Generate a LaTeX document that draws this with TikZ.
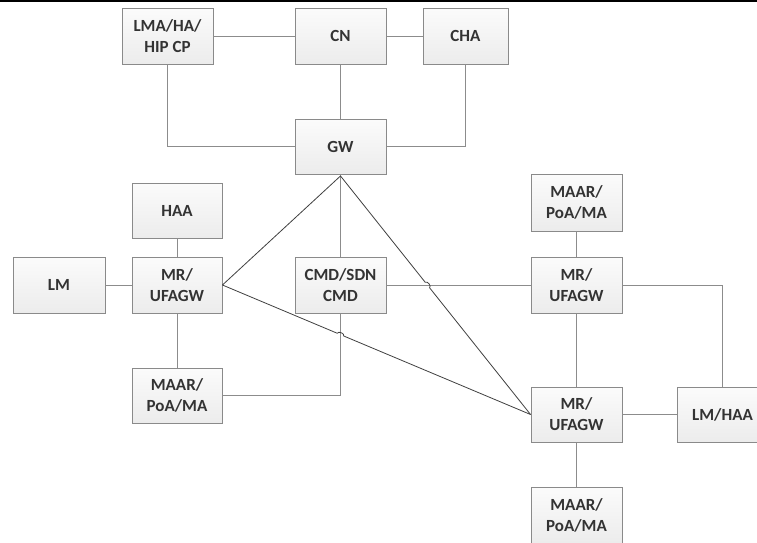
\documentclass[tikz,border=0pt]{standalone}
\usepackage{fontspec}
\setmainfont{Carlito}
\usetikzlibrary{calc,shadows}
\definecolor{boxline}{HTML}{8A8A8A}
\definecolor{boxtext}{HTML}{333333}
\definecolor{wire}{HTML}{8C8C8C}
\definecolor{diag}{HTML}{404040}
\tikzset{
  box/.style={draw=boxline, line width=0.9pt, top color=gray!3, bottom color=gray!15,
    text=boxtext, font=\bfseries\fontsize{17}{21}\selectfont, align=center,
    inner sep=0pt, minimum width=91pt, minimum height=56pt,
    drop shadow={shadow xshift=1pt, shadow yshift=-1pt, opacity=0.18, fill=black}},
  wireline/.style={draw=wire, line width=0.9pt},
  diagline/.style={draw=diag, line width=0.8pt},
}
\begin{document}
\begin{tikzpicture}[x=1pt, y=-1pt]
\useasboundingbox (0,0) rectangle (757,542);
\clip (0,0) rectangle (757,542);
\fill[white] (0,0) rectangle (757,542);
\draw[line width=1.6pt] (0,0.8) -- (757,0.8);

% upper row
\node[box] (lma) at (167.5,36) {LMA/HA/\\HIP CP};
\node[box] (cn) at (340.5,36) {CN};
\node[box, minimum width=85pt] (cha) at (465.5,36) {CHA};
\node[box, minimum height=55pt] (gw) at (340.5,146.5) {GW};

% left cluster
\node[box, minimum width=90pt, minimum height=55pt] (haa) at (177,210.5) {HAA};
\node[box, minimum width=92pt] (lm) at (59,285) {LM};
\node[box, minimum width=90pt] (mrl) at (177,285) {MR/\\UFAGW};
\node[box] (cmd) at (340.5,285) {CMD/SDN\\CMD};
\node[box, minimum width=90pt, minimum height=55pt] (maarl) at (177,395.5) {MAAR/\\PoA/MA};

% right cluster
\node[box, minimum height=57pt] (maarr1) at (576.5,202.5) {MAAR/\\PoA/MA};
\node[box] (mrr1) at (576.5,285) {MR/\\UFAGW};
\node[box, minimum height=55pt] (mrr2) at (576.5,414.5) {MR/\\UFAGW};
\node[box, minimum height=55pt] (lmhaa) at (722.5,414.5) {LM/HAA};
\node[box] (maarr2) at (576.5,515) {MAAR/\\PoA/MA};

% plain connectors
\draw[wireline] (lma.east) -- (cn.west);
\draw[wireline] (cn.east) -- (cha.west);
\draw[wireline] (cn.south) -- (gw.north);
\draw[wireline] (lma.south) |- (gw.west);
\draw[wireline] (cha.south) |- (gw.east);
\draw[wireline] (gw.south) -- (cmd.north);
\draw[wireline] (haa.south) -- (mrl.north);
\draw[wireline] (lm.east) -- (mrl.west);
\draw[wireline] (mrl.south) -- (maarl.north);
\coordinate (knee) at (cmd.south |- maarl.east);
\draw[wireline] (maarl.east) -- (knee) -- (cmd.south);
\draw[wireline] (cmd.east) -- (mrr1.west);
\draw[wireline] (maarr1.south) -- (mrr1.north);
\draw[wireline] (mrr1.south) -- (mrr2.north);
\draw[wireline] (mrr1.east) -| (lmhaa.north);
\draw[wireline] (mrr2.east) -- (lmhaa.west);
\draw[wireline] (mrr2.south) -- (maarr2.north);

% diagonal links, hopping over the lines they cross
\coordinate (apex) at ($(gw.south)+(0,1.5)$);
\coordinate (hopa) at (intersection of apex--mrr2.west and cmd.east--mrr1.west);
\coordinate (hopb) at (intersection of mrl.east--mrr2.west and cmd.south--knee);
\draw[diagline] (apex) -- (mrl.east);
\draw[diagline] (apex) -- ($(hopa)!3.5pt!(apex)$)
  to[bend left=90] ($(hopa)!3.5pt!(mrr2.west)$) -- (mrr2.west);
\draw[diagline] (mrl.east) -- ($(hopb)!3.5pt!(mrl.east)$)
  to[bend left=90] ($(hopb)!3.5pt!(mrr2.west)$) -- (mrr2.west);
\end{tikzpicture}
\end{document}
